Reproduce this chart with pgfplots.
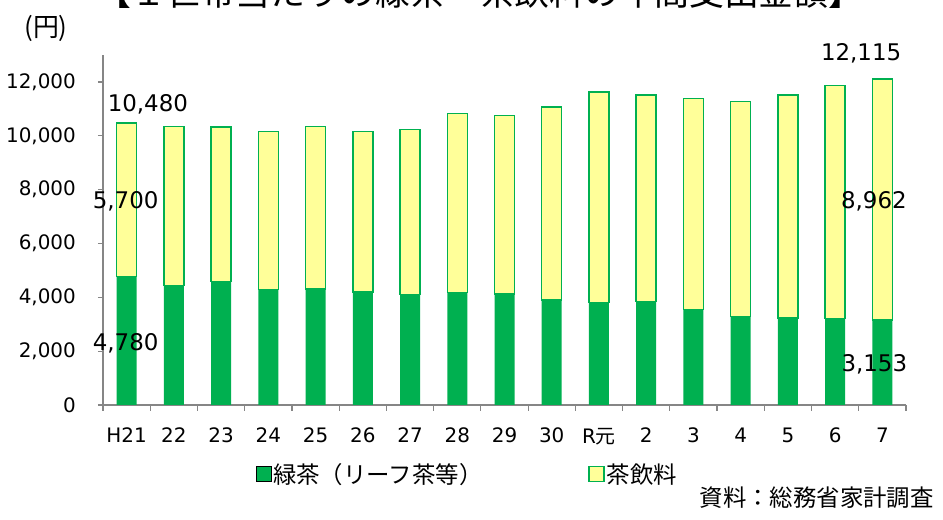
\documentclass[border=0pt]{standalone}
\usepackage{pgfplots}
\pgfplotsset{compat=1.18}
\usepackage{fontspec}
\setmainfont{DejaVu Sans}
\newfontfamily\jp{Noto Sans CJK JP}
\definecolor{leafgreen}{RGB}{0,176,80}
\definecolor{drinkyellow}{RGB}{255,255,153}
\definecolor{axisgray}{RGB}{134,134,134}

% green tea (leaf) and tea drinks, yen per household
\pgfplotstableread{
x green yellow
0  4780 5700
1  4446 5893
2  4594 5733
3  4297 5856
4  4309 6042
5  4198 5967
6  4098 6142
7  4185 6638
8  4123 6625
9  3900 7170
10 3801 7826
11 3838 7678
12 3554 7839
13 3281 7988
14 3232 8284
15 3220 8642
16 3153 8962
}\teadata

\tikzset{vlabel/.style={font=\fontsize{23}{27}\selectfont, inner sep=0pt}}

\begin{document}
\begin{tikzpicture}
\begin{axis}[
  at={(103bp,115bp)}, anchor=south west,
  width=803bp, height=350bp, scale only axis,
  clip=false,
  ybar stacked, bar width=20bp,
  xmin=-0.5, xmax=16.5, ymin=0, ymax=13000,
  axis x line*=bottom, axis y line*=left,
  axis line style={draw=axisgray, line width=1.5bp},
  xtick={0,...,16},
  xticklabels={H21,22,23,24,25,26,27,28,29,30,{R\jp 元},2,3,4,5,6,7},
  major x tick style={draw=none},
  minor xtick={-0.5,0.5,...,16.5},
  minor tick length=6bp,
  minor x tick style={draw=axisgray, line width=1.2bp},
  ytick={0,2000,...,12000},
  major tick length=5bp,
  tick align=outside,
  major y tick style={draw=axisgray, line width=1.2bp},
  yticklabel style={inner sep=0pt, anchor=east, xshift=-22bp},
  xticklabel style={inner sep=0pt, anchor=north, yshift=-18bp},
  tick label style={font=\fontsize{20}{24}\selectfont},
  /pgf/number format/assume math mode=true,
  /pgf/number format/1000 sep={,},
  scaled y ticks=false,
  legend style={at={(0.19,-0.16)}, anchor=north west, draw=none, fill=none,
    inner sep=0pt, font=\jp\fontsize{23.5}{28}\selectfont,
    /tikz/every even column/.append style={column sep=104bp}},
  legend columns=2,
  legend image code/.code={\draw[#1] (0bp,-7.5bp) rectangle (15bp,7.5bp);},
]
\addplot[fill=leafgreen, draw=none] table[x=x, y=green] {\teadata};
\addlegendentry{緑茶（リーフ茶等）}
\addplot[fill=drinkyellow, draw=leafgreen, line width=1.5bp] table[x=x, y=yellow] {\teadata};
\addlegendentry{茶飲料}
\coordinate (l1) at (axis cs:0.45,11155);
\coordinate (l2) at (axis cs:-0.02,7578);
\coordinate (l3) at (axis cs:-0.02,2285);
\coordinate (l4) at (axis cs:15.55,13076);
\coordinate (l5) at (axis cs:15.82,7560);
\coordinate (l6) at (axis cs:15.83,1523);
\end{axis}
\node[vlabel] at (l1) {10,480};
\node[vlabel] at (l2) {5,700};
\node[vlabel] at (l3) {4,780};
\node[vlabel] at (l4) {12,115};
\node[vlabel] at (l5) {8,962};
\node[vlabel] at (l6) {3,153};
\node[anchor=base, inner sep=0pt, font=\jp\fontsize{35}{40}\selectfont] at (480bp,514bp) {【１世帯当たりの緑茶・茶飲料の年間支出金額】};
\node[inner sep=0pt, font=\jp\fontsize{26}{30}\selectfont] at (46bp,492bp) {(円)};
\node[anchor=east, inner sep=0pt, font=\jp\fontsize{23.5}{28}\selectfont] at (934bp,22.5bp) {資料：総務省家計調査};
\pgfresetboundingbox
\useasboundingbox (0,0) rectangle (943bp,520bp);
\end{tikzpicture}
\end{document}
